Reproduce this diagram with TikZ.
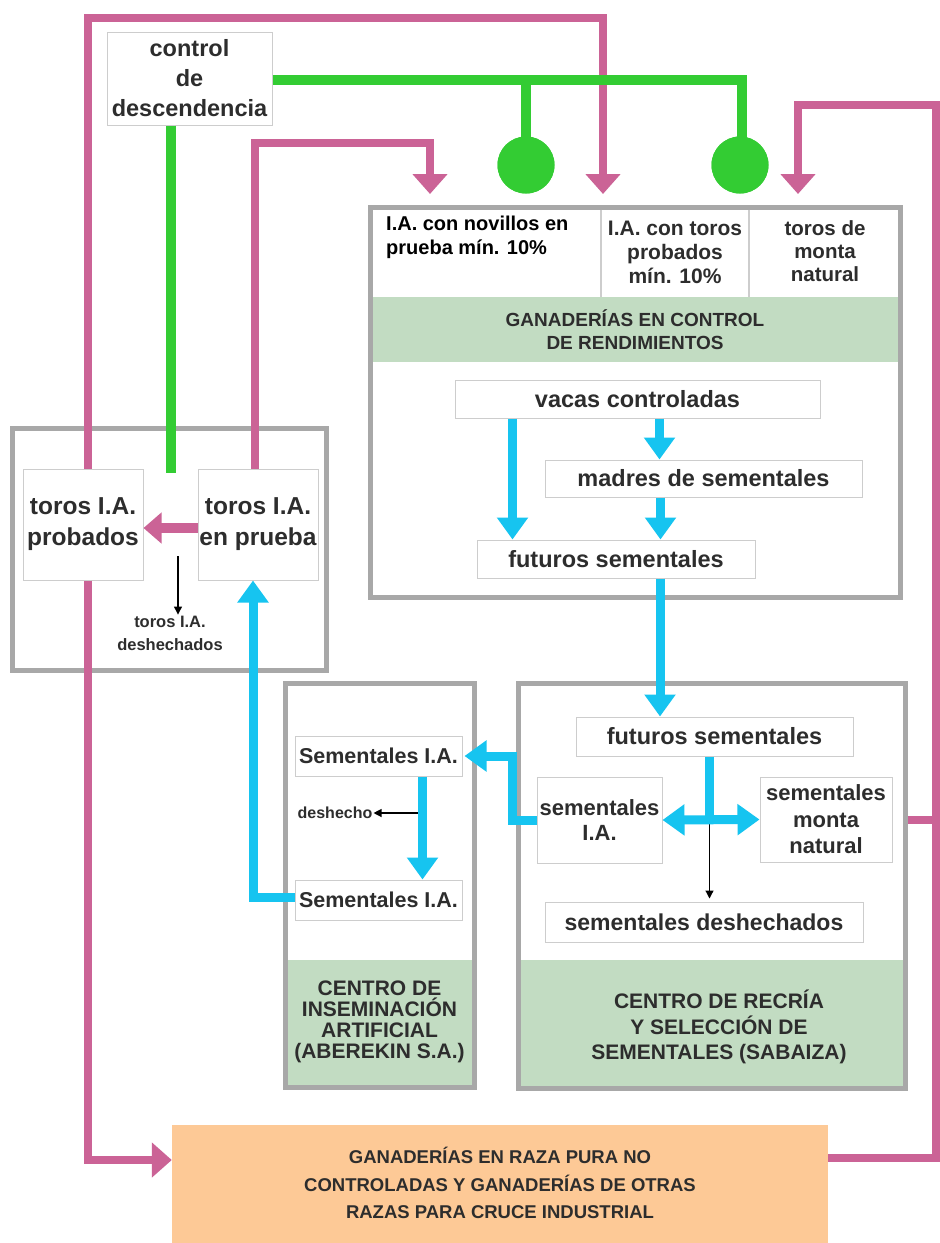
\documentclass[tikz,border=0pt]{standalone}
\usepackage{fontspec}
\setmainfont{Liberation Sans}
\usetikzlibrary{arrows.meta}
\definecolor{pinkc}{RGB}{203,99,150}
\definecolor{greenc}{RGB}{51,204,51}
\definecolor{bluec}{RGB}{22,196,240}
\definecolor{grayb}{RGB}{168,168,168}
\definecolor{grayl}{RGB}{205,205,205}
\definecolor{sage}{RGB}{194,220,194}
\definecolor{orangec}{RGB}{253,201,150}
\definecolor{txt}{RGB}{45,45,45}
\begin{document}
\begin{tikzpicture}[x=1pt,y=-1pt,
  ibox/.style={draw=grayl, line width=1pt, fill=white, inner sep=0pt, align=center, text=txt,
     font=\bfseries\fontsize{23.5}{26}\selectfont},
  cont/.style={draw=grayb, line width=5pt, inner sep=0pt},
  lbl/.style={inner sep=1pt, align=center, text=txt},
  pinkl/.style={draw=pinkc, line width=8pt},
  pinka/.style={pinkl, -{Triangle[width=34pt,length=20pt]}},
  greenl/.style={draw=greenc, line width=10pt},
  bluel/.style={draw=bluec, line width=9pt},
  bluea/.style={bluel, -{Triangle[width=30pt,length=22pt]}},
  blk/.style={draw=black, line width=1.2pt, -{Triangle[width=8pt,length=8pt]}},
  dot/.style={circle, fill=greenc, minimum size=57pt, inner sep=0pt}]
\useasboundingbox (0,0) rectangle (940,1243);
\clip (0,0) rectangle (940,1243);
\fill[white] (0,0) rectangle (940,1243);

% green header fills
\fill[sage] (372.5,297) rectangle (897.5,362);
\fill[sage] (287.5,960) rectangle (471.5,1084.5);
\fill[sage] (520.5,960) rectangle (902.5,1085.5);

% containers
\node[cont, minimum width=530pt, minimum height=390pt] (gan) at (635,402) {};
\node[cont, minimum width=314pt, minimum height=242pt] (left) at (169,549) {};
\node[cont, minimum width=189pt, minimum height=404pt] (cia) at (379.5,885) {};
\node[cont, minimum width=387pt, minimum height=405pt] (sab) at (711.5,885.5) {};
\node[fill=orangec, inner sep=0pt, minimum width=656pt, minimum height=125pt] (orange) at (500,1187.5) {};

\draw[grayl, line width=1.5pt] (601,209.5) -- (601,297);
\draw[grayl, line width=1.5pt] (749,209.5) -- (749,297);

% texts in containers
\node[lbl, anchor=north west, align=left, font=\bfseries\fontsize{20}{24}\selectfont, text=black] (cell1) at (385,215) {I.A. con novillos en\\prueba mín. 10\%};
\node[lbl, font=\bfseries\fontsize{21}{24}\selectfont] (cell2) at (675,252) {I.A. con toros\\probados\\mín. 10\%};
\node[lbl, font=\bfseries\fontsize{20.5}{23}\selectfont] (cell3) at (825,251) {toros de\\monta\\natural};
\node[lbl, font=\bfseries\fontsize{19}{23}\selectfont] (hdr) at (635,330) {GANADERÍAS EN CONTROL\\DE RENDIMIENTOS};
\node[lbl, font=\bfseries\fontsize{21}{21}\selectfont] (ciat) at (379.5,1022) {CENTRO DE\\INSEMINACIÓN\\ARTIFICIAL\\(ABEREKIN S.A.)};
\node[lbl, font=\bfseries\fontsize{21}{25.5}\selectfont] (sabt) at (719,1027) {CENTRO DE RECRÍA\\Y SELECCIÓN DE\\SEMENTALES (SABAIZA)};
\node[lbl, font=\bfseries\fontsize{18.5}{27.5}\selectfont] (ort) at (500,1183) {GANADERÍAS EN RAZA PURA NO\\CONTROLADAS Y GANADERÍAS DE OTRAS\\RAZAS PARA CRUCE INDUSTRIAL};
\node[lbl, font=\bfseries\fontsize{16.5}{23}\selectfont] (tdes) at (170,633) {toros I.A.\\deshechados};
\node[lbl, font=\bfseries\fontsize{16}{20}\selectfont] (deshecho) at (335,813) {deshecho};

% inner boxes
\node[ibox, minimum width=165pt, minimum height=93pt, font=\bfseries\fontsize{23.5}{30}\selectfont] (desc) at (189.5,78.5) {control\\de\\descendencia};
\node[ibox, minimum width=365pt, minimum height=38pt] (vacas) at (637.5,399) {vacas controladas};
\node[ibox, minimum width=317pt, minimum height=37pt] (madres) at (703.5,478.5) {madres de sementales};
\node[ibox, minimum width=278pt, minimum height=38pt] (futA) at (616,559) {futuros sementales};
\node[ibox, minimum width=120pt, minimum height=111pt, font=\bfseries\fontsize{24.5}{31}\selectfont] (probados) at (83,524.5) {toros I.A.\\probados};
\node[ibox, minimum width=120pt, minimum height=111pt, font=\bfseries\fontsize{24.5}{31}\selectfont] (prueba) at (258,524.5) {toros I.A.\\en prueba};
\node[ibox, minimum width=167pt, minimum height=40pt, font=\bfseries\fontsize{21.5}{26}\selectfont] (semA1) at (378.5,756) {Sementales I.A.};
\node[ibox, minimum width=167pt, minimum height=40pt, font=\bfseries\fontsize{21.5}{26}\selectfont] (semA2) at (378.5,900) {Sementales I.A.};
\node[ibox, minimum width=277pt, minimum height=39pt] (futB) at (714.5,736.5) {futuros sementales};
\node[ibox, minimum width=125pt, minimum height=86pt, font=\bfseries\fontsize{22}{25}\selectfont] (semIA) at (599.5,820) {sementales\\I.A.};
\node[ibox, minimum width=132pt, minimum height=85pt, font=\bfseries\fontsize{22}{26.5}\selectfont] (semMN) at (826,819.5) {sementales\\monta\\natural};
\node[ibox, minimum width=318pt, minimum height=40pt, font=\bfseries\fontsize{23}{26}\selectfont] (semDes) at (704,922) {sementales deshechados};

% free-end coordinates
\coordinate (pk1) at (603,194);
\coordinate (pk2) at (430,194);
\coordinate (pk3) at (798,194);
\coordinate (ow) at ([yshift=27.5pt]orange.west);
\coordinate (oe) at ([yshift=29.5pt]orange.east);
\coordinate (se) at ([yshift=65.5pt]sab.east);
\coordinate (rtop) at (936,105);
\coordinate (rbot) at (936,1158);
\coordinate (gd) at ([xshift=-18.5pt]desc.south);
\coordinate (d1) at (178,556);

% pink connectors
\draw[pinka] ([xshift=5pt]probados.north) -- ++(0,-451) -| (pk1);
\draw[pinka] ([xshift=5pt]probados.south) |- (ow);
\draw[pinka] ([xshift=-3pt]prueba.north) -- ++(0,-326) -| (pk2);
\draw[pinka] (oe) -- (rbot) -- (rtop) -| (pk3);
\draw[pinkl] (se) -- (se -| rbot);
\draw[pinkl, line width=10pt, -{Triangle[width=30pt,length=18pt]}] ([yshift=-3.5pt]prueba.west) -- ([yshift=-3.5pt]probados.east);

% green connectors
\node[dot] (c1) at (526,165) {};
\node[dot] (c2) at (740,165) {};
\draw[greenl] ([yshift=-1.5pt]desc.east) -| ([xshift=2pt]c2.center);
\draw[greenl] (c1.center) -- (c1.center |- desc.east);
\draw[greenl] (gd) -- ++(0,347);
\node[dot] at (c1) {};
\node[dot] at (c2) {};

% black small arrows
\draw[blk] (d1) -- (d1 |- tdes.north);
\coordinate (b6s) at ([xshift=44pt]semA1.south);
\draw[blk] (deshecho.east -| b6s) -- (deshecho.east);
\coordinate (b5s) at ([xshift=-5pt]futB.south);
\coordinate (jn) at (b5s |- semIA.east);
\draw[blk] (jn) -- ([yshift=3pt]jn |- semDes.north);

% blue connectors
\coordinate (b1s) at ([xshift=-125pt]vacas.south);
\draw[bluea] (b1s) -- (b1s |- futA.north);
\coordinate (b2s) at ([xshift=22pt]vacas.south);
\draw[bluea] (b2s) -- (b2s |- madres.north);
\coordinate (b3s) at ([xshift=-43pt]madres.south);
\draw[bluea] (b3s) -- (b3s |- futA.north);
\coordinate (b4s) at ([xshift=44pt]futA.south);
\draw[bluea] (b4s) -- (b4s |- futB.north);
\draw[bluel] (b5s) -- (jn);
\draw[bluel, {Triangle[width=30pt,length=22pt]}-{Triangle[width=30pt,length=22pt]}] (semIA.east) -- (semMN.west);
\draw[bluea] (semIA.west) -- ++(-24,0) |- ([xshift=2pt]semA1.east);
\draw[bluea] (b6s) -- (b6s |- semA2.north);
\coordinate (b7) at ([xshift=-5pt]prueba.south);
\draw[bluea] ([yshift=3pt]semA2.west) -| (b7);
\end{tikzpicture}
\end{document}
